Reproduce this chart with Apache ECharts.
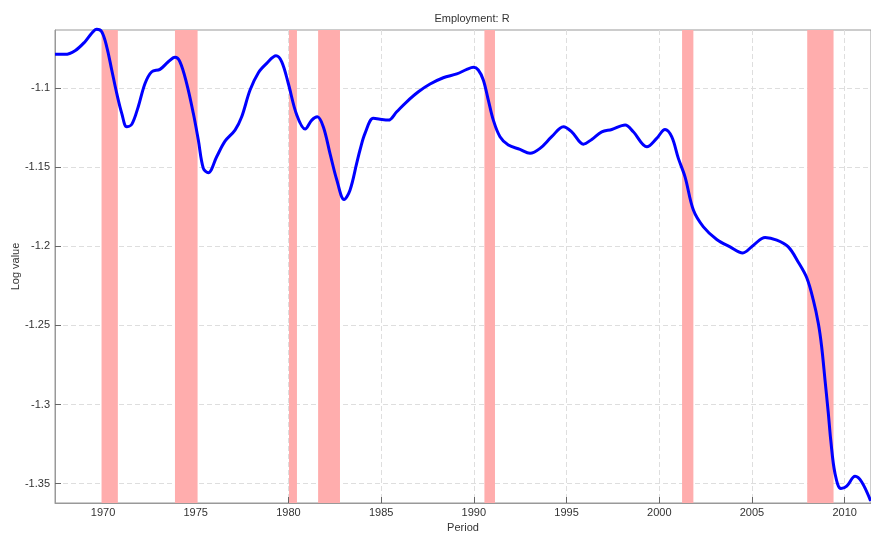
<!DOCTYPE html>
<html>
<head>
<meta charset="utf-8">
<title>Employment: R</title>
<script src="https://cdn.jsdelivr.net/npm/echarts/dist/echarts.min.js"></script>
<style>
    html, body { margin: 0; padding: 0; background: #fff; }
    #empChart { width: 871px; height: 536px; }
</style>
</head>
<body>
<div id="empChart"></div>
<script>
// period (year) of each point
var years = [
    1967.41, 1967.95, 1968.49, 1969.03, 1969.39, 1969.66, 1969.93, 1970.20, 1970.47, 1970.74,
    1971.01, 1971.28, 1971.55, 1971.90, 1972.27, 1972.63, 1973.07, 1973.52, 1973.88, 1974.15,
    1974.51, 1974.87, 1975.14, 1975.41, 1975.68, 1976.13, 1976.58, 1977.12, 1977.48, 1977.93,
    1978.38, 1978.83, 1979.33, 1979.64, 1979.99, 1980.45, 1980.90, 1981.26, 1981.56, 1981.88,
    1982.24, 1982.61, 1983.00, 1983.32, 1983.68, 1983.86, 1984.13, 1984.58, 1984.94, 1985.39,
    1985.84, 1986.38, 1987.01, 1987.64, 1988.35, 1989.08, 1989.62, 1989.98, 1990.24, 1990.51,
    1990.78, 1991.05, 1991.41, 1991.86, 1992.49, 1993.03, 1993.57, 1994.20, 1994.83, 1995.28,
    1995.91, 1996.36, 1996.90, 1997.44, 1998.16, 1998.60, 1999.33, 1999.86, 2000.31, 2000.67,
    2001.03, 2001.39, 2001.84, 2002.38, 2003.10, 2003.82, 2004.50, 2005.08, 2005.71, 2006.34,
    2006.96, 2007.50, 2007.96, 2008.31, 2008.58, 2008.76, 2008.94, 2009.12, 2009.25, 2009.48,
    2009.80, 2010.11, 2010.56, 2010.92, 2011.40
];
// log value
var logValues = [
    -1.0785, -1.0785, -1.0762, -1.0705, -1.0652, -1.0627, -1.0642, -1.0737, -1.0884, -1.1032,
    -1.1158, -1.1243, -1.1228, -1.1116, -1.0968, -1.0895, -1.0880, -1.0832, -1.0804, -1.0832,
    -1.0968, -1.1158, -1.1327, -1.1506, -1.1534, -1.1433, -1.1334, -1.1264, -1.1180, -1.1011,
    -1.0901, -1.0842, -1.0794, -1.0832, -1.0968, -1.1169, -1.1258, -1.1201, -1.1180, -1.1243,
    -1.1411, -1.1580, -1.1703, -1.1644, -1.1475, -1.1390, -1.1285, -1.1190, -1.1196, -1.1201,
    -1.1148, -1.1085, -1.1022, -1.0973, -1.0933, -1.0909, -1.0880, -1.0867, -1.0884, -1.0947,
    -1.1074, -1.1201, -1.1306, -1.1359, -1.1386, -1.1411, -1.1380, -1.1306, -1.1243, -1.1275,
    -1.1353, -1.1323, -1.1275, -1.1260, -1.1232, -1.1275, -1.1370, -1.1317, -1.1260, -1.1306,
    -1.1443, -1.1560, -1.1770, -1.1876, -1.1956, -1.2003, -1.2041, -1.1992, -1.1943, -1.1960,
    -1.2003, -1.2100, -1.2200, -1.2340, -1.2488, -1.2636, -1.2846, -1.3057, -1.3226, -1.3437,
    -1.3532, -1.3517, -1.3454, -1.3490, -1.3610
];
// recession bands
var recessionStart = [1969.92, 1973.88, 1980.03, 1981.60, 1990.57, 2001.23, 2007.98];
var recessionEnd   = [1970.80, 1975.10, 1980.46, 1982.78, 1991.14, 2001.84, 2009.40];
// ticks
var xTicks = [1970, 1975, 1980, 1985, 1990, 1995, 2000, 2005, 2010];
var yTicks = [-1.35, -1.3, -1.25, -1.2, -1.15, -1.1];

var empChartObj = {
    myChart : echarts.init(document.getElementById('empChart')),
    option : null,
    init : function(){
        var that = this;
        that.request();
    },
    resize : function(){
        var that = this;
        if(!that.option){return}
        that.myChart.resize();
        that.myChart.setOption(that.option);
    },
    request : function(){
        var that = this;
        var points = [];
        for(var i = 0; i < years.length; i++){
            points.push([years[i], logValues[i]]);
        }
        var bands = [];
        for(var j = 0; j < recessionStart.length; j++){
            bands.push([{xAxis : recessionStart[j]}, {xAxis : recessionEnd[j]}]);
        }
        that.render(points, bands);
    },
    render : function(points, bands){
        var that = this;
        that.drawChart(points, bands);
    },
    drawChart : function(points, bands){
        var that = this;
        var font = 'Liberation Sans';
        var gridLine = {
            show : true,
            lineStyle : { color : '#dedede', type : [5, 3], width : 1 }
        };
        that.option = {
            animation : false,
            title : {
                text : 'Employment: R',
                left : 467,
                top : 8,
                textAlign : 'center',
                textStyle : { fontFamily : font, fontSize : 11, fontWeight : 'normal', color : '#333' }
            },
            grid : {
                left : 55,
                right : 0,
                top : 30,
                bottom : 33,
                containLabel : false,
                outerBoundsMode : 'none',
                show : true,
                borderColor : '#999',
                borderWidth : 1
            },
            xAxis : {
                type : 'value',
                min : 1967.41,
                max : 2011.42,
                name : 'Period',
                nameLocation : 'middle',
                nameGap : 13,
                nameTextStyle : { fontFamily : font, fontSize : 11, color : '#333' },
                axisLine : { show : true, lineStyle : { color : '#999' } },
                axisTick : { show : true, inside : true, length : 6, customValues : xTicks, lineStyle : { color : '#666' } },
                axisLabel : {
                    customValues : xTicks,
                    margin : 4,
                    fontFamily : font,
                    fontSize : 11,
                    color : '#333',
                    formatter : function(v){ return String(v); }
                },
                splitLine : gridLine
            },
            yAxis : {
                type : 'value',
                min : -1.3623,
                max : -1.0631,
                name : 'Log value',
                nameLocation : 'middle',
                nameGap : 34,
                nameMoveOverlap : false,
                nameTextStyle : { fontFamily : font, fontSize : 11, color : '#333' },
                axisLine : { show : true, lineStyle : { color : '#999' } },
                axisTick : { show : true, inside : true, length : 6, customValues : yTicks, lineStyle : { color : '#666' } },
                axisLabel : {
                    customValues : yTicks,
                    margin : 5,
                    fontFamily : font,
                    fontSize : 11,
                    color : '#333',
                    formatter : function(v){ return String(v); }
                },
                splitLine : gridLine
            },
            series : [
                {
                    name : 'Employment: R',
                    type : 'line',
                    data : points,
                    smooth : 0.35,
                    symbol : 'none',
                    clip : false,
                    lineStyle : { color : '#0000ff', width : 3 },
                    z : 3,
                    markArea : {
                        silent : true,
                        itemStyle : { color : '#ffadad', opacity : 1 },
                        data : bands
                    }
                }
            ]
        };
        that.myChart.setOption(that.option);
    }
};
empChartObj.init();

/* resize with the window */
(function resizeChart(){
    window.onresize = function(){
        empChartObj.resize();
    }
})();
</script>
</body>
</html>
